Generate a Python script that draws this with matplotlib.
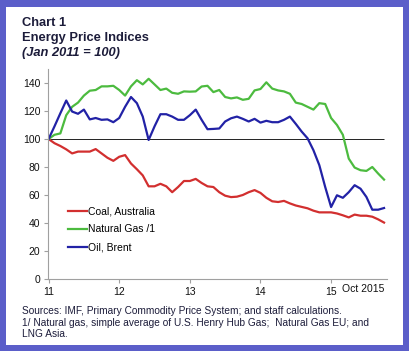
import matplotlib
matplotlib.use("Agg")
import matplotlib.pyplot as plt
from matplotlib.patches import Rectangle

plt.rcParams['font.family'] = ['Liberation Sans', 'DejaVu Sans']

months = list(range(58))  # Jan 2011 .. Oct 2015
coal = [100, 97, 95, 92.6, 89.7, 91, 91, 91, 92.8, 89.7, 86.6, 84.4, 87.3, 88.5, 82.5,
        78.4, 74, 66.2, 66.2, 68, 66.2, 62, 65.7, 70, 70, 71.5, 68.6, 66.2, 65.7, 62,
        59.5, 58.5, 58.8, 60, 62, 63.5, 61.5, 58, 55.5, 55, 55.8, 54, 52.5, 51.5, 50.5,
        48.8, 47.6, 47.6, 47.6, 46.8, 45.5, 44, 46, 45.2, 45.2, 44.5, 42.6, 40.3]
gas = [100, 103, 104, 117, 123, 126, 131, 134.5, 135, 137.6, 137.6, 138, 135, 131, 137.6,
       142, 139, 143, 139, 135, 136, 133, 132.3, 134, 133.8, 134, 137.5, 138, 133.5, 135,
       130, 129, 129.7, 128, 128.7, 134.7, 135.7, 140.5, 136, 134.7, 134, 132.3, 126, 125,
       123, 121, 125.6, 125, 115, 110, 103, 86, 79.6, 77.7, 77.2, 80, 75.3, 71]
oil = [100, 109, 118.4, 127.5, 119.6, 118, 121, 114, 115, 113.7, 114, 112, 115, 123, 130,
       125.6, 116, 99.3, 109, 117.7, 117.7, 116, 113.7, 113.7, 117, 121, 113.7, 107, 107.2,
       107.5, 112.5, 114.8, 116, 114.4, 112.5, 114.4, 111.7, 113, 112, 112, 113.7, 116,
       110.8, 105.3, 100.5, 92, 81.3, 65.7, 51.4, 59.8, 58, 62, 67, 64.5, 58.6, 49.5, 49.5,
       50.7]
series_names = ["Coal, Australia", "Natural Gas /1", "Oil, Brent"]
series_colors = ["#d22f2f", "#4cbb3f", "#2222a6"]
xtick_pos = [0, 12, 24, 36, 48]
xtick_labels = ["11", "12", "13", "14", "15"]
yticks = [0, 20, 40, 60, 80, 100, 120, 140]

W, H = 410, 351
fig = plt.figure(figsize=(W / 100, H / 100), dpi=100)
fig.patch.set_facecolor("#5b5ec9")
fig.patches.append(Rectangle((6 / W, 1 - 345 / H), (403 - 6) / W, (345 - 7) / H,
                             transform=fig.transFigure, facecolor="white",
                             edgecolor="none", zorder=-10))

ax_l, ax_r, ax_t, ax_b = 48, 387, 69, 279
ax = fig.add_axes([ax_l / W, 1 - ax_b / H, (ax_r - ax_l) / W, (ax_b - ax_t) / H])
ax.set_facecolor("none")
ax.set_zorder(5)

for vals, name, col in zip([coal, gas, oil], series_names, series_colors):
    ax.plot(months, vals, color=col, lw=1.6, label=name, solid_joinstyle="round")
ax.hlines(100, months[0], months[-1], color="#222222", lw=0.7, zorder=1)

ax.set_xlim(-0.1, 57.5)
ax.set_ylim(0, 150)
ax.set_yticks(yticks)
ax.set_xticks(xtick_pos)
ax.set_xticklabels(xtick_labels)
for s in ["top", "right"]:
    ax.spines[s].set_visible(False)
for s in ["left", "bottom"]:
    ax.spines[s].set_color("#a0a0a0")
    ax.spines[s].set_linewidth(0.8)
ax.tick_params(axis="both", colors="#a0a0a0", labelcolor="#111111", labelsize=7.5,
               length=3, width=0.8)
ax.tick_params(axis="y", pad=2.5)
ax.tick_params(axis="x", pad=3)
ax.text(57, -3.8, "Oct 2015", ha="right", va="top", fontsize=7.5, color="#111111",
        transform=ax.transData, clip_on=False)

leg = ax.legend(loc="upper left", bbox_to_anchor=(20 / (ax_r - ax_l), 0.345),
                frameon=False, fontsize=7.5, handlelength=1.8, handletextpad=0.1,
                labelspacing=0.75, borderaxespad=0, borderpad=0)

tc = "#1c1c3a"
fig.text(22 / W, 1 - 23 / H, "Chart 1", fontsize=9.3, fontweight="bold", color=tc, va="center")
fig.text(22 / W, 1 - 38 / H, "Energy Price Indices", fontsize=9.3, fontweight="bold",
         color=tc, va="center")
fig.text(22 / W, 1 - 53 / H, "(Jan 2011 = 100)", fontsize=9.3, fontweight="bold",
         fontstyle="italic", color=tc, va="center")

notes = ["Sources: IMF, Primary Commodity Price System; and staff calculations.",
         "1/ Natural gas, simple average of U.S. Henry Hub Gas;  Natural Gas EU; and",
         "LNG Asia."]
for i, t in enumerate(notes):
    fig.text(22 / W, 1 - (311 + 11.5 * i) / H, t, fontsize=7.3, color="#1c1c3a", va="center")

fig.savefig("out.png", dpi=100, facecolor=fig.get_facecolor())
